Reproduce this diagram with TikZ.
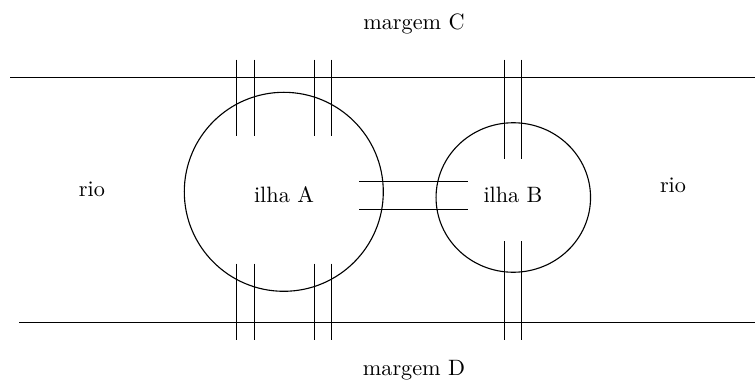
\documentclass[tikz,border=0pt]{standalone}
\usetikzlibrary{shapes.geometric}
\begin{document}
\begin{tikzpicture}[x=0.45pt,y=-0.45pt,line width=0.5pt,
  lbl/.style={inner sep=0pt,font=\normalsize}]
\useasboundingbox (0,0) rectangle (755,380);
% banks
\coordinate (c1) at (10,77.5); \coordinate (c2) at (755,77.5);
\coordinate (d1) at (19,322.5); \coordinate (d2) at (755,322.5);
\draw (c1) -- (c2);
\draw (d1) -- (d2);
% islands
\node[draw,circle,minimum size=199*0.45pt,inner sep=0pt] (A) at (283.8,191.8) {};
\node[draw,ellipse,minimum width=154.5*0.45pt,minimum height=149.5*0.45pt,inner sep=0pt] (B) at (513.3,197.5) {};
\node[lbl] (la) at (284,195) {ilha A};
\node[lbl] (lb) at (513,195) {ilha B};
\node[lbl] (r1) at (92,189) {rio};
\node[lbl] (r2) at (673,185) {rio};
\node[lbl] (mc) at (414,24) {margem C};
\node[lbl] (md) at (414,370) {margem D};
% bridges A top
\foreach \x/\n in {236.5/a,254.5/b,314.5/c,331.5/d}{
  \coordinate (t\n1) at (\x,59.5); \coordinate (t\n2) at (\x,136);
  \draw (t\n1) -- (t\n2);
  \coordinate (u\n1) at (\x,263.5); \coordinate (u\n2) at (\x,340);
  \draw (u\n1) -- (u\n2);
}
% bridges B
\foreach \x/\n in {504.5/e,521.5/f}{
  \coordinate (t\n1) at (\x,59.5); \coordinate (t\n2) at (\x,159);
  \draw (t\n1) -- (t\n2);
  \coordinate (u\n1) at (\x,241); \coordinate (u\n2) at (\x,340);
  \draw (u\n1) -- (u\n2);
}
% bridge A-B
\coordinate (h1) at (359,181.5); \coordinate (h2) at (468,181.5);
\coordinate (h3) at (359,209.5); \coordinate (h4) at (468,209.5);
\draw (h1) -- (h2);
\draw (h3) -- (h4);
\end{tikzpicture}
\end{document}
